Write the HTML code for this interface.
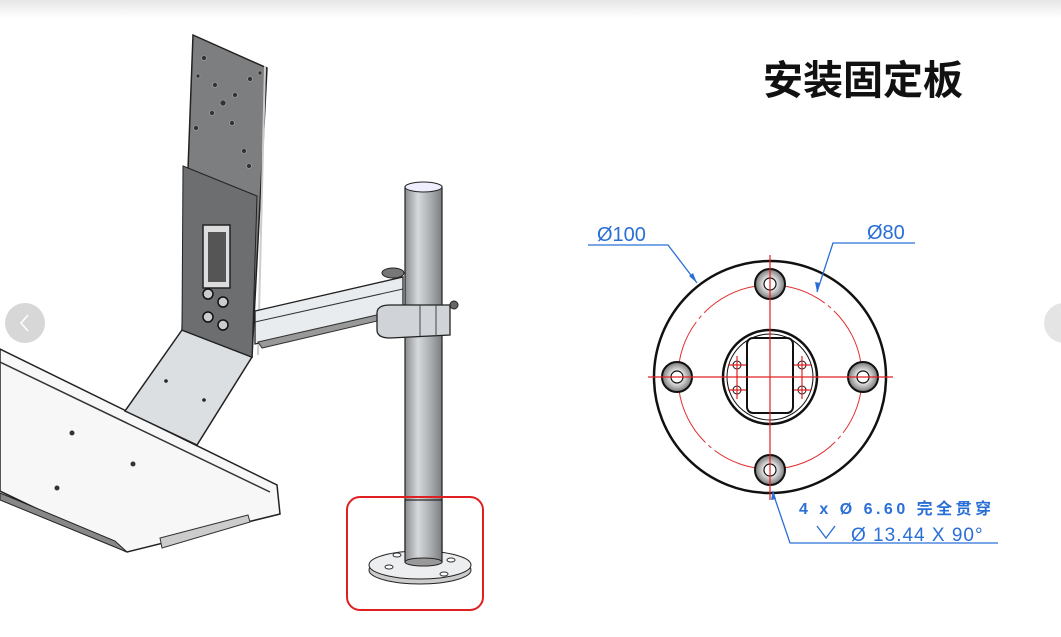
<!DOCTYPE html>
<html><head><meta charset="utf-8"><style>
html,body{margin:0;padding:0;background:#fff;}
svg{display:block;}
</style></head><body>
<svg width="1061" height="637" viewBox="0 0 1061 637" xmlns="http://www.w3.org/2000/svg">
<defs>
<linearGradient id="top" x1="0" y1="0" x2="0" y2="1"><stop offset="0" stop-color="#e6e6e6"/><stop offset="1" stop-color="#fff"/></linearGradient>
<linearGradient id="pole" x1="0" y1="0" x2="1" y2="0"><stop offset="0" stop-color="#8a8d90"/><stop offset="0.35" stop-color="#d6d9dc"/><stop offset="0.7" stop-color="#a9acaf"/><stop offset="1" stop-color="#7b7e81"/></linearGradient>
<radialGradient id="hole"><stop offset="0.3" stop-color="#fff"/><stop offset="1" stop-color="#777"/></radialGradient>
</defs>
<rect x="0" y="0" width="1061" height="18" fill="url(#top)"/>
<!-- tray -->
<polygon points="0,349 277,485 280,514 127,552 0,491" fill="#f7f7f7" stroke="#222" stroke-width="1.5"/>
<polyline points="0,362 270,492" fill="none" stroke="#333" stroke-width="1.5"/>
<polygon points="0,493 115,541 127,552 0,500" fill="#888" stroke="#222"/>
<polygon points="160,538 248,515 250,522 162,548" fill="#ccc" stroke="#333"/>
<circle cx="72" cy="433" r="2.5" fill="#333"/><circle cx="133" cy="464" r="2.5" fill="#333"/><circle cx="57" cy="488" r="2.5" fill="#333"/>
<!-- bend plate -->
<polygon points="182,330 252,357 197,445 125,411" fill="#dcdfe2" stroke="#222" stroke-width="1.5"/>
<circle cx="166" cy="381" r="1.8" fill="#222"/><circle cx="204" cy="400" r="1.8" fill="#222"/>
<!-- upper plate -->
<polygon points="193,35 267,68 252,357 182,330" fill="#7c7e80" stroke="#222" stroke-width="1.5"/>
<polygon points="183,166 257,196 252,357 182,330" fill="#6c6e70" stroke="#222" stroke-width="1"/>
<line x1="265" y1="66" x2="258" y2="355" stroke="#ccc" stroke-width="2"/>
<g fill="#333" stroke="#aaa" stroke-width="0.6">
<circle cx="204" cy="58" r="2.5"/><circle cx="215" cy="85" r="2.5"/><circle cx="235" cy="95" r="2.5"/><circle cx="223" cy="103" r="3"/><circle cx="212" cy="113" r="2.5"/><circle cx="232" cy="123" r="2.5"/><circle cx="250" cy="79" r="2.5"/><circle cx="196" cy="128" r="2.5"/><circle cx="244" cy="151" r="2.5"/><circle cx="249" cy="166" r="2.5"/><circle cx="198" cy="76" r="2"/><circle cx="260" cy="73" r="2"/>
</g>
<rect x="203" y="225" width="27" height="63" fill="#ddd" stroke="#222" stroke-width="1.5"/>
<rect x="208" y="232" width="18" height="50" fill="#555"/>
<g fill="#ccc" stroke="#111" stroke-width="1.5"><circle cx="208" cy="294" r="5"/><circle cx="223" cy="302" r="5"/><circle cx="208" cy="317" r="5"/><circle cx="223" cy="325" r="5"/></g>
<!-- arm -->
<polygon points="255,311 403,277 403,311 255,344" fill="#e8ecef" stroke="#222" stroke-width="1.3"/>
<line x1="255" y1="322" x2="403" y2="289" stroke="#333"/>
<polygon points="258,342 390,312 390,318 262,348" fill="#999" stroke="#333"/>
<ellipse cx="393" cy="273" rx="11" ry="5" fill="#777" stroke="#222"/>
<!-- pole -->
<rect x="405" y="187" width="37" height="377" fill="url(#pole)" stroke="#222" stroke-width="1.2"/>
<ellipse cx="423.5" cy="187" rx="18.5" ry="5" fill="#eef" stroke="#222"/>
<!-- clamp -->
<path d="M377,313 Q377,305 390,305 L450,305 L450,335 L390,338 Q377,338 377,330 Z" fill="#d0d4d8" stroke="#222" stroke-width="1.3"/>
<line x1="420" y1="305" x2="420" y2="336" stroke="#444"/><line x1="436" y1="305" x2="436" y2="336" stroke="#444"/>
<circle cx="454" cy="305" r="4" fill="#666" stroke="#222"/>
<!-- base -->
<ellipse cx="420" cy="570" rx="51" ry="14" fill="#ccc" stroke="#222"/>
<ellipse cx="420" cy="565" rx="51" ry="14" fill="#eceeef" stroke="#222"/>
<rect x="405" y="500" width="37" height="62" fill="url(#pole)" stroke="#222" stroke-width="1.2"/>
<ellipse cx="423.5" cy="562" rx="18.5" ry="4" fill="#999" stroke="#222"/>
<g fill="#fff" stroke="#333"><ellipse cx="389" cy="567" rx="4" ry="2"/><ellipse cx="451" cy="560" rx="4" ry="2"/><ellipse cx="444" cy="574" rx="4" ry="2"/><ellipse cx="397" cy="555" rx="4" ry="2"/></g>
<rect x="347" y="497" width="136" height="113" rx="13" fill="none" stroke="#e02020" stroke-width="2"/>
<!-- nav -->
<circle cx="25" cy="323" r="20" fill="#d7d7d7"/>
<polyline points="28,315 21,323 28,331" fill="none" stroke="#fff" stroke-width="1.5"/>
<circle cx="1064" cy="323" r="20" fill="#e4e4e4"/>
<!-- title -->
<text x="763" y="94" font-family="Liberation Sans, Noto Sans CJK SC, sans-serif" font-size="40" font-weight="bold" fill="#111">安装固定板</text>
<!-- drawing -->
<circle cx="770" cy="377" r="116" fill="#fff" stroke="#111" stroke-width="2.5"/>
<circle cx="770" cy="377" r="92" fill="none" stroke="#e03030" stroke-width="1" stroke-dasharray="60 4 4 4"/>
<g stroke="#111" stroke-width="2" fill="url(#hole)">
<circle cx="770" cy="284" r="15"/><circle cx="677" cy="377" r="15"/><circle cx="863" cy="377" r="15"/><circle cx="770" cy="470" r="15"/></g>
<g stroke="#111" stroke-width="1.2" fill="#fff">
<circle cx="770" cy="284" r="6"/><circle cx="677" cy="377" r="6"/><circle cx="863" cy="377" r="6"/><circle cx="770" cy="470" r="6"/></g>
<circle cx="770" cy="377" r="47" fill="#fff" stroke="#111" stroke-width="2.5"/>
<circle cx="770" cy="377" r="43" fill="none" stroke="#111" stroke-width="1"/>
<rect x="747" y="338" width="46" height="75" rx="6" fill="none" stroke="#111" stroke-width="2"/>
<g fill="#fff" stroke="#111"><circle cx="737" cy="365" r="4"/><circle cx="737" cy="390" r="4"/><circle cx="802" cy="365" r="4"/><circle cx="802" cy="390" r="4"/></g>
<g stroke="#e02020" stroke-width="1.2">
<line x1="648" y1="377" x2="893" y2="377"/><line x1="770" y1="255" x2="770" y2="500"/>
<line x1="728" y1="365" x2="746" y2="365"/><line x1="728" y1="390" x2="746" y2="390"/><line x1="794" y1="365" x2="811" y2="365"/><line x1="794" y1="390" x2="811" y2="390"/>
<line x1="737" y1="356" x2="737" y2="399"/><line x1="802" y1="356" x2="802" y2="399"/>
</g>
<g stroke="#2a6fd6" stroke-width="1.3" fill="none">
<polyline points="588,245 668,245 697,283"/>
<polyline points="915,243 833,243 817,292"/>
<polyline points="773,493 790,543 998,543"/>
</g>
<g fill="#2a6fd6"><polygon points="697,283 689,276 693,273"/><polygon points="817,292 815,282 820,283"/><polygon points="773,490 771,500 776,499"/></g>
<g font-family="Liberation Sans, Noto Sans CJK SC, sans-serif" fill="#2a6fd6">
<text x="597" y="241" font-size="20">Ø100</text>
<text x="867" y="239" font-size="20">Ø80</text>
<text x="799" y="514" font-size="16" font-weight="bold" letter-spacing="3.5">4 x Ø 6.60 完全贯穿</text>
<text x="851" y="541" font-size="19" letter-spacing="1">Ø 13.44 X 90°</text>
</g>
<polyline points="817,526 826,538 835,526" fill="none" stroke="#2a6fd6" stroke-width="1.3"/>
</svg>
</body></html>
